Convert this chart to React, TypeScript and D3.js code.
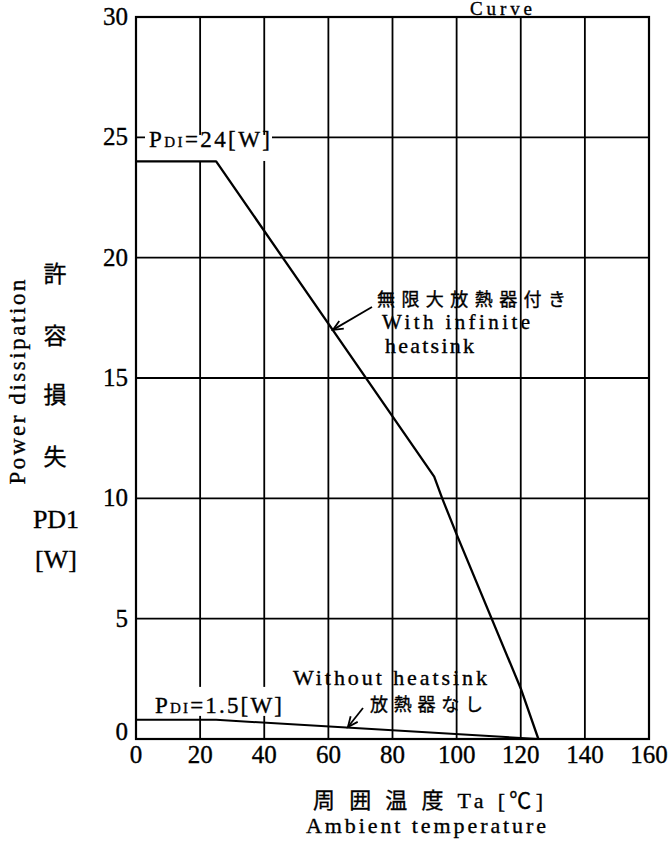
import React from 'react';
import * as d3 from 'd3';

// ---- data ----
const xTicks = [0, 20, 40, 60, 80, 100, 120, 140, 160];
const yTicks = [0, 5, 10, 15, 20, 25, 30];
const withHeatsinkTa = [0, 25, 93, 95.5, 100, 120, 125.5];
const withHeatsinkPd = [24, 24, 10.9, 10, 8.5, 2.1, 0];
const withoutHeatsinkTa = [0, 25, 125.5];
const withoutHeatsinkPd = [0.8, 0.8, 0];

const W = 670;
const H = 841;
const serif = "'Liberation Serif', 'Times New Roman', serif";
const mixed = "'Liberation Serif', 'Noto Sans CJK JP', serif";
const cjk = "'Noto Sans CJK JP', sans-serif";

const x = d3.scaleLinear().domain([0, 160]).range([136, 649]);
const y = d3.scaleLinear().domain([0, 30]).range([739, 17]);
const line = d3
  .line<[number, number]>()
  .x((d) => x(d[0]))
  .y((d) => y(d[1]));

const ink = { fill: '#000', stroke: '#000', strokeWidth: 0.35 };

function Arrow({ from, to }: { from: [number, number]; to: [number, number] }) {
  const x1 = x(from[0]), y1 = y(from[1]), x2 = x(to[0]), y2 = y(to[1]);
  const ang = Math.atan2(y2 - y1, x2 - x1);
  const len = 11, spread = 0.42;
  const ax = x2 - len * Math.cos(ang - spread), ay = y2 - len * Math.sin(ang - spread);
  const bx = x2 - len * Math.cos(ang + spread), by = y2 - len * Math.sin(ang + spread);
  return (
    <g stroke="#000" strokeWidth={1.8} fill="none">
      <line x1={x1} y1={y1} x2={x2} y2={y2} />
      <path d={`M${ax},${ay}L${x2},${y2}L${bx},${by}`} />
    </g>
  );
}

export default function App() {
  const withPts: [number, number][] = withHeatsinkTa.map((t, i) => [t, withHeatsinkPd[i]]);
  const withoutPts: [number, number][] = withoutHeatsinkTa.map((t, i) => [t, withoutHeatsinkPd[i]]);
  return (
    <svg width={W} height={H} style={{ position: 'absolute', left: 0, top: 0, background: '#fff' }}>
      <rect x={0} y={0} width={W} height={H} fill="#fff" />
      {/* grid */}
      {xTicks.map((t) => (
        <line key={'vx' + t} x1={x(t)} x2={x(t)} y1={y(0)} y2={y(30)} stroke="#000" strokeWidth={1.8} />
      ))}
      {yTicks.map((t) => (
        <line key={'hy' + t} x1={x(0)} x2={x(160)} y1={y(t)} y2={y(t)} stroke="#000" strokeWidth={1.8} />
      ))}
      <rect x={x(0)} y={y(30)} width={x(160) - x(0)} height={y(0) - y(30)} fill="none" stroke="#000" strokeWidth={2.2} />

      {/* label backgrounds */}
      <rect x={145} y={y(24.6) - 12} width={127} height={26} fill="#fff" />
      <rect x={153} y={y(1.5) - 16} width={131} height={29} fill="#fff" />

      {/* curves */}
      <path d={line(withPts) || ''} fill="none" stroke="#000" strokeWidth={2.3} strokeLinejoin="round" />
      <path d={line(withoutPts) || ''} fill="none" stroke="#000" strokeWidth={2} strokeLinejoin="round" />

      {/* tick labels */}
      {xTicks.map((t) => (
        <text key={'xl' + t} x={x(t)} y={763} textAnchor="middle" fontFamily={serif} fontSize={25} {...ink}>
          {t}
        </text>
      ))}
      {yTicks.map((t) => (
        <text key={'yl' + t} x={128} y={t === 0 ? 740 : y(t) + 8} textAnchor="end" fontFamily={serif} fontSize={25} {...ink}>
          {t}
        </text>
      ))}

      {/* title fragment */}
      <text x={501} y={15} textAnchor="middle" fontFamily={serif} fontSize={19} textLength={62} lengthAdjust="spacing" {...ink}>
        Curve
      </text>

      {/* PD labels */}
      <text x={149} y={147} fontFamily={serif} fontSize={23} textLength={121} lengthAdjust="spacing" {...ink}>
        P<tspan fontSize={15}>DI</tspan>=24[W]
      </text>
      <text x={155} y={713} fontFamily={serif} fontSize={23} textLength={127} lengthAdjust="spacing" {...ink}>
        P<tspan fontSize={15}>DI</tspan>=1.5[W]
      </text>

      {/* with heatsink annotation */}
      <text x={377} y={306} fontFamily={cjk} fontSize={18} textLength={189} lengthAdjust="spacing" {...ink}>
        無限大放熱器付き
      </text>
      <text x={382} y={329} fontFamily={serif} fontSize={21} textLength={148} lengthAdjust="spacing" {...ink}>
        With  infinite
      </text>
      <text x={385} y={353} fontFamily={serif} fontSize={22} textLength={89} lengthAdjust="spacing" {...ink}>
        heatsink
      </text>
      <Arrow from={[73.6, 17.95]} to={[61.4, 17.0]} />

      {/* without heatsink annotation */}
      <text x={293} y={685} fontFamily={serif} fontSize={22} textLength={194} lengthAdjust="spacing" {...ink}>
        Without  heatsink
      </text>
      <text x={370} y={711} fontFamily={cjk} fontSize={18} textLength={113} lengthAdjust="spacing" {...ink}>
        放熱器なし
      </text>
      <Arrow from={[70.8, 1.29]} to={[66.1, 0.5]} />

      {/* y axis title */}
      <text
        transform="translate(25,382) rotate(-90)"
        textAnchor="middle"
        fontFamily={serif}
        fontSize={23}
        textLength={205}
        lengthAdjust="spacing"
        {...ink}
      >
        Power dissipation
      </text>
      {['許', '容', '損', '失'].map((c, i) => (
        <text key={c} x={55} y={[282, 344, 403, 465][i]} textAnchor="middle" fontFamily={cjk} fontSize={23} {...ink}>
          {c}
        </text>
      ))}
      <text x={56} y={528} textAnchor="middle" fontFamily={serif} fontSize={26} {...ink}>
        PD1
      </text>
      <text x={56} y={568} textAnchor="middle" fontFamily={serif} fontSize={26} {...ink}>
        [W]
      </text>

      {/* x axis title */}
      <text x={313} y={808} fontFamily={mixed} fontSize={22} textLength={230} lengthAdjust="spacing" {...ink}>
        周 囲 温 度 Ta [℃]
      </text>
      <text x={306} y={833} fontFamily={serif} fontSize={22} textLength={240} lengthAdjust="spacing" {...ink}>
        Ambient  temperature
      </text>
    </svg>
  );
}
